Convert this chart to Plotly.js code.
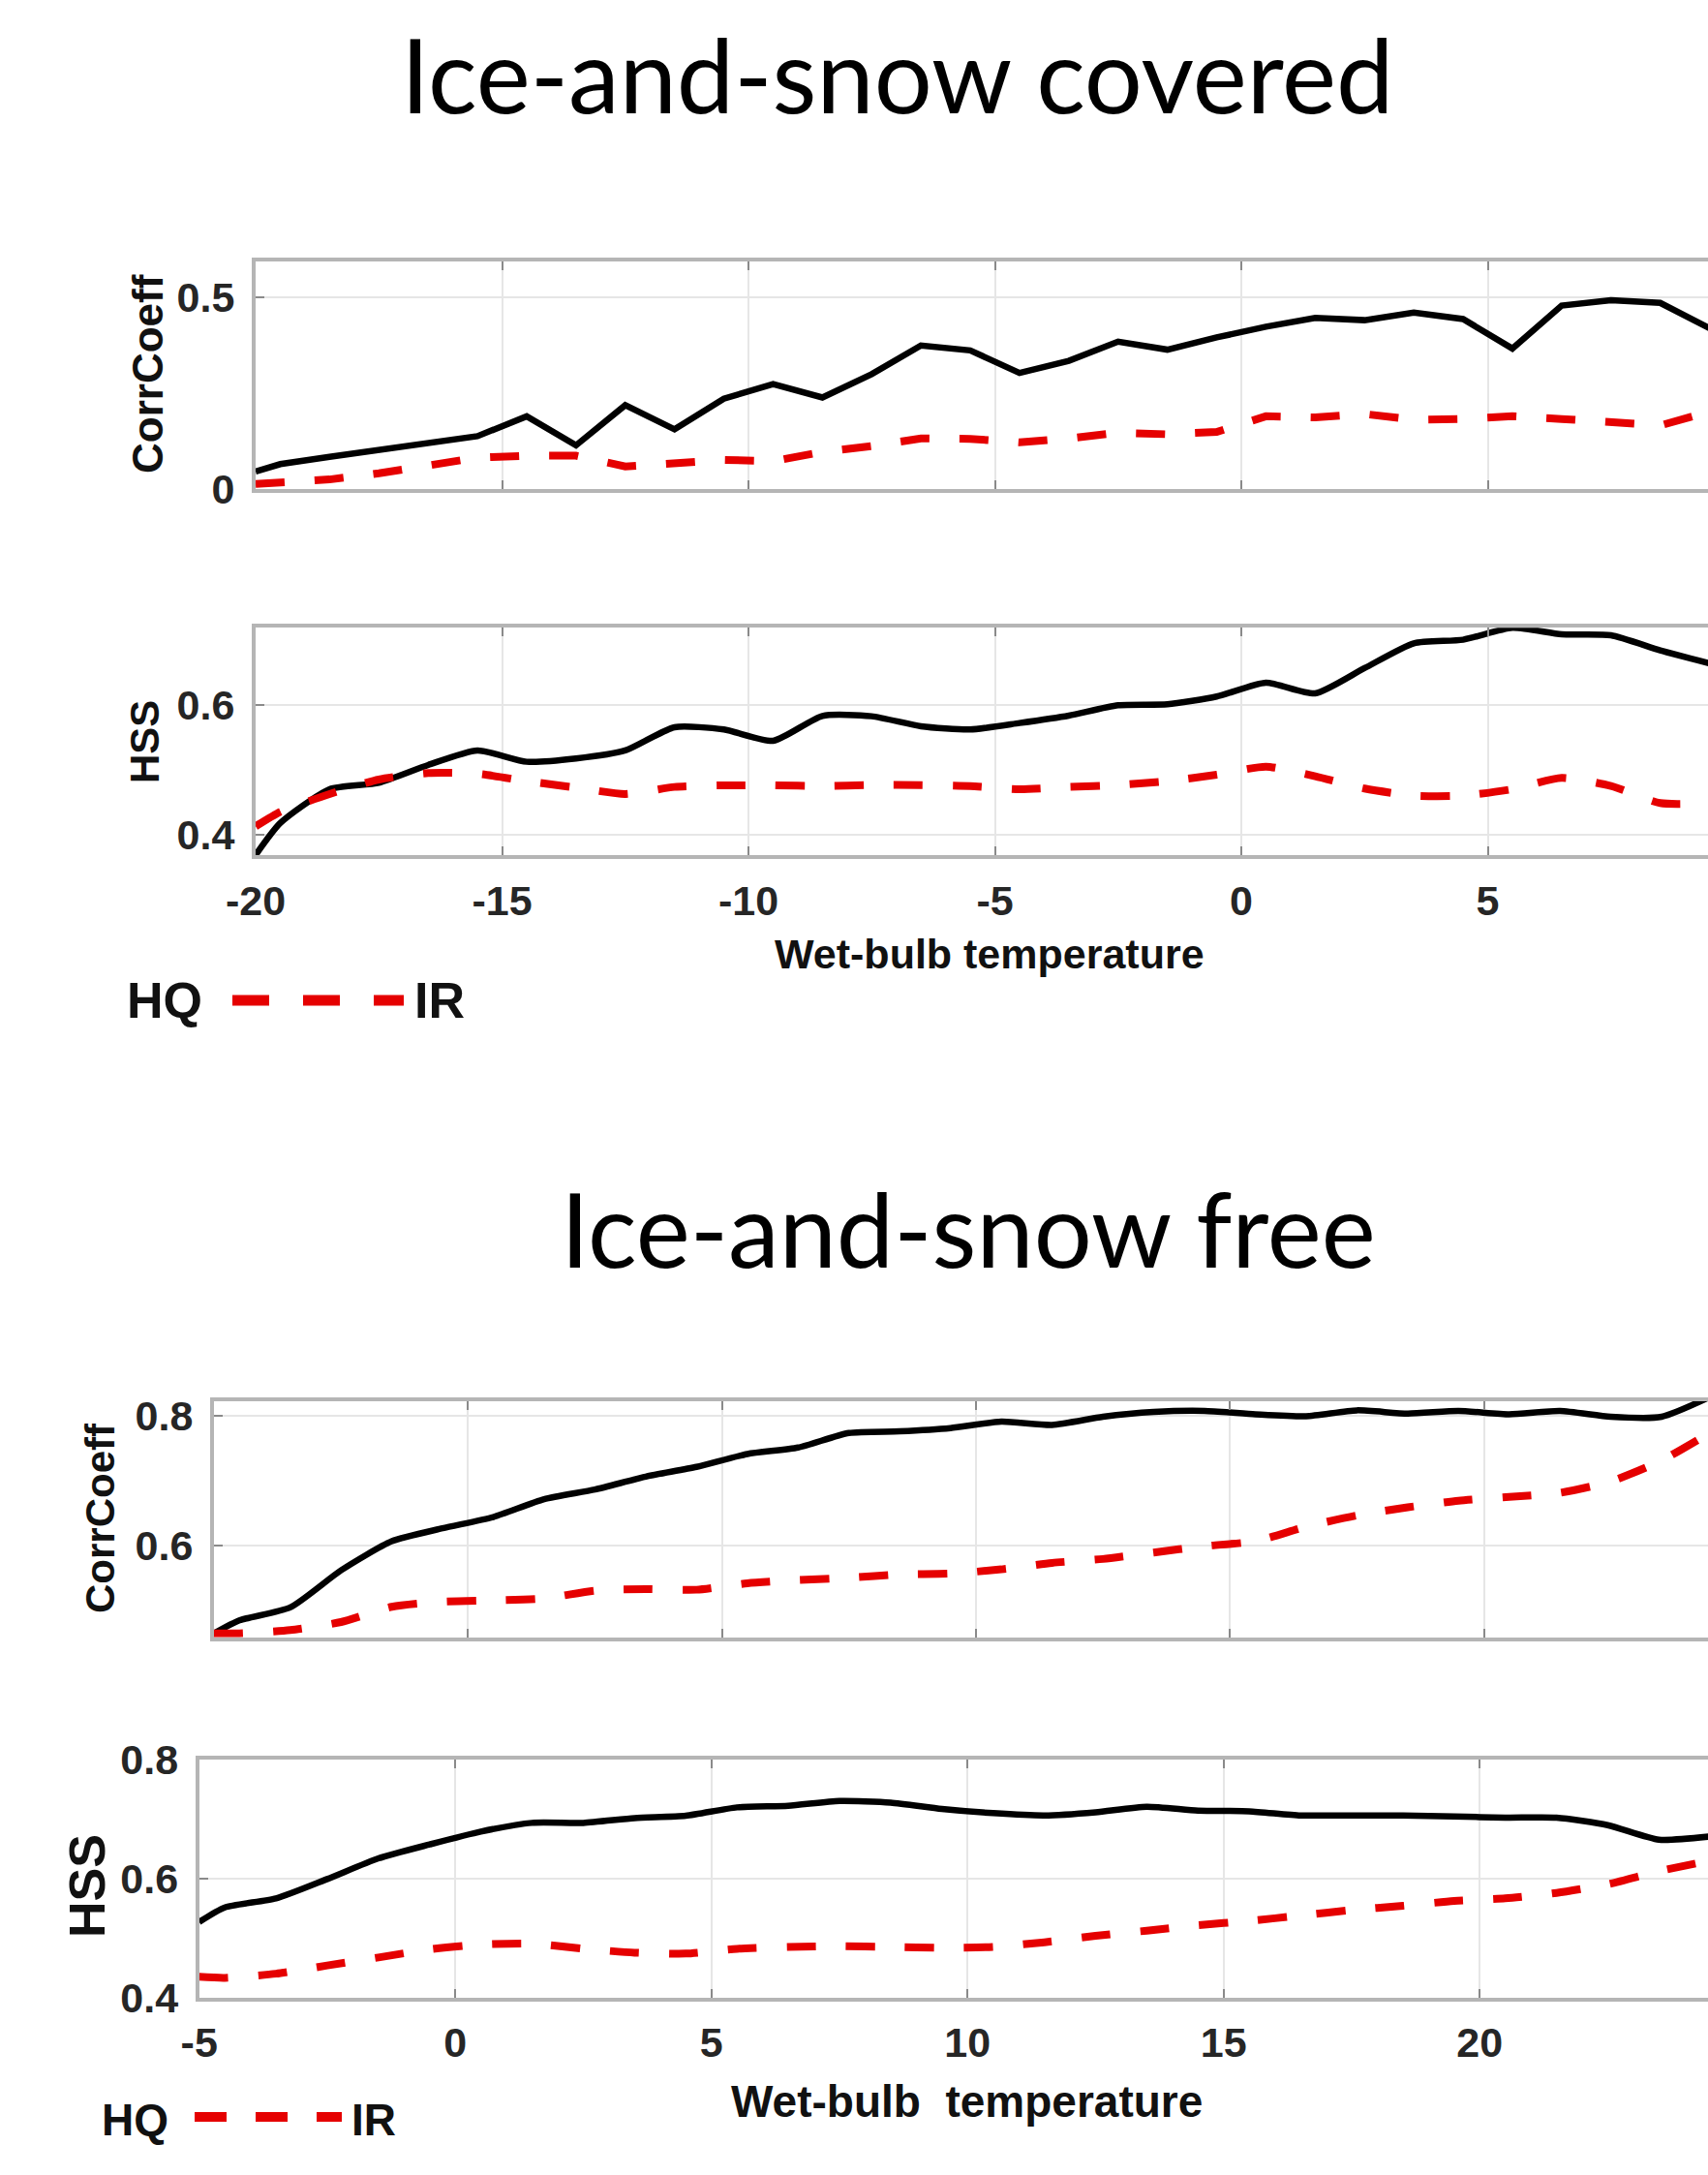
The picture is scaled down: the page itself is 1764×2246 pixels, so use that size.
<!DOCTYPE html>
<html><head><meta charset="utf-8">
<script src="https://cdn.plot.ly/plotly-3.0.1.min.js"></script>
<style>html,body{margin:0;padding:0;overflow:hidden;background:#fff;width:1764px;height:2246px}#chart{width:2000px;height:2246px}</style>
</head><body><div id="chart"></div><script>
// ---------- data ----------
const covX = [-20, -19.5, -18.5, -17.5, -16.5, -15.5, -14.5, -13.5, -12.5, -11.5, -10.5, -9.5, -8.5, -7.5, -6.5, -5.5, -4.5, -3.5, -2.5, -1.5, -0.5, 0.5, 1.5, 2.5, 3.5, 4.5, 5.5, 6.5, 7.5, 8.5, 9.5];
const covCorrHQ = [0.046, 0.065, 0.084, 0.103, 0.122, 0.138, 0.19, 0.114, 0.219, 0.156, 0.236, 0.274, 0.239, 0.30, 0.375, 0.362, 0.303, 0.335, 0.385, 0.364, 0.396, 0.424, 0.447, 0.441, 0.461, 0.444, 0.367, 0.479, 0.493, 0.486, 0.42];
const covCorrIR = [0.013, 0.016, 0.025, 0.041, 0.059, 0.082, 0.087, 0.087, 0.059, 0.070, 0.076, 0.073, 0.097, 0.112, 0.132, 0.131, 0.122, 0.132, 0.147, 0.143, 0.149, 0.190, 0.187, 0.196, 0.181, 0.183, 0.190, 0.183, 0.173, 0.166, 0.202];
const covHssHQ = [0.368, 0.4175, 0.47, 0.48, 0.5075, 0.53, 0.5125, 0.5175, 0.53, 0.566, 0.5625, 0.545, 0.5835, 0.583, 0.5675, 0.5625, 0.5725, 0.584, 0.60, 0.6015, 0.6135, 0.635, 0.6185, 0.6575, 0.696, 0.7015, 0.72, 0.71, 0.7085, 0.685, 0.665];
const covHssIR = [0.4125, 0.435, 0.4625, 0.485, 0.495, 0.494, 0.4825, 0.4725, 0.4625, 0.4735, 0.476, 0.476, 0.475, 0.4765, 0.4765, 0.475, 0.47, 0.4735, 0.4765, 0.4825, 0.4925, 0.505, 0.49, 0.471, 0.46, 0.46, 0.47, 0.4875, 0.475, 0.4485, 0.4485];

const freeX = [-5, -4.5, -3.5, -2.5, -1.5, -0.5, 0.5, 1.5, 2.5, 3.5, 4.5, 5.5, 6.5, 7.5, 8.5, 9.5, 10.5, 11.5, 12.5, 13.5, 14.5, 15.5, 16.5, 17.5, 18.5, 19.5, 20.5, 21.5, 22.5, 23.5, 24.5];
const freeCorrHQ = [0.4635, 0.4836, 0.5036, 0.561, 0.606, 0.626, 0.6435, 0.671, 0.686, 0.706, 0.721, 0.741, 0.751, 0.7735, 0.776, 0.781, 0.791, 0.786, 0.7986, 0.806, 0.8076, 0.8025, 0.7995, 0.8085, 0.8035, 0.8076, 0.8025, 0.8076, 0.7986, 0.7986, 0.831];
const freeCorrIR = [0.4635, 0.4635, 0.4686, 0.481, 0.5046, 0.5126, 0.5146, 0.5176, 0.5296, 0.532, 0.531, 0.541, 0.546, 0.5496, 0.5546, 0.556, 0.5625, 0.5725, 0.5786, 0.5886, 0.5985, 0.606, 0.6285, 0.646, 0.6585, 0.6686, 0.6746, 0.681, 0.6986, 0.731, 0.776];
const freeHssHQ = [0.5268, 0.5512, 0.5664, 0.5989, 0.6336, 0.657, 0.6786, 0.6932, 0.6932, 0.7013, 0.7052, 0.7192, 0.722, 0.730, 0.7273, 0.7165, 0.7095, 0.7057, 0.711, 0.7203, 0.7138, 0.7127, 0.7057, 0.7057, 0.7057, 0.704, 0.702, 0.702, 0.6894, 0.665, 0.6704];
const freeHssIR = [0.4347, 0.433, 0.440, 0.4537, 0.4672, 0.4808, 0.4889, 0.4905, 0.4818, 0.4753, 0.4737, 0.4818, 0.485, 0.4862, 0.485, 0.4835, 0.485, 0.4927, 0.5035, 0.5122, 0.5214, 0.5285, 0.5377, 0.5468, 0.554, 0.562, 0.5664, 0.5756, 0.5902, 0.612, 0.63];

const seriesNames = ['HQ', 'IR'];
const covTicksX = [-20, -15, -10, -5, 0, 5];
const freeTicksX = [-5, 0, 5, 10, 15, 20];
const titles = ['Ice-and-snow covered', 'Ice-and-snow free'];

// ---------- layout helpers ----------
const W = 2000, H = 2246;
const fx = p => p / W;
const fy = p => 1 - p / H;

const BLACK = '#000000', RED = '#e50000';
const hq = {color: BLACK, width: 6.5};
const irA = {color: RED, width: 8, dash: '30px,31px'};

function tr(x, y, ax, line, shape) {
  return {x: x, y: y, xaxis: 'x' + ax, yaxis: 'y' + ax, type: 'scatter', mode: 'lines',
          line: Object.assign({shape: shape || 'linear', smoothing: 0.6}, line), hoverinfo: 'skip', showlegend: false};
}
const traces = [
  tr(covX, covCorrHQ, '', hq), tr(covX, covCorrIR, '', irA),
  tr(covX, covHssHQ, '2', hq, 'spline'), tr(covX, covHssIR, '2', irA, 'spline'),
  tr(freeX, freeCorrHQ, '3', hq, 'spline'), tr(freeX, freeCorrIR, '3', irA, 'spline'),
  tr(freeX, freeHssHQ, '4', hq, 'spline'), tr(freeX, freeHssIR, '4', irA, 'spline')
];

const tickFont = {family: 'Liberation Sans, Arial, sans-serif', size: 43, color: '#262626', weight: 'bold'};
function xa(left, x0, pxPer, tv, anchor, labels) {
  return {domain: [fx(left), fx(1950)], range: [x0, x0 + (1950 - left) / pxPer], anchor: anchor,
          tickvals: tv, ticktext: tv.map(String), showticklabels: labels,
          showgrid: true, gridcolor: '#e6e6e6', gridwidth: 2, zeroline: false,
          showline: true, mirror: 'ticks', linecolor: '#b5b5b5', linewidth: 4,
          ticks: 'inside', ticklen: 9, tickwidth: 2, tickcolor: '#8a8a8a',
          tickfont: tickFont, ticklabelstandoff: 6, fixedrange: true};
}
function ya(top, bottom, r, tv, anchor) {
  return {domain: [fy(bottom), fy(top)], range: r, anchor: anchor,
          tickvals: tv, ticktext: tv.map(String),
          showgrid: true, gridcolor: '#e6e6e6', gridwidth: 2, zeroline: false,
          showline: true, mirror: 'ticks', linecolor: '#b5b5b5', linewidth: 4,
          ticks: 'inside', ticklen: 9, tickwidth: 2, tickcolor: '#8a8a8a',
          tickfont: tickFont, ticklabelstandoff: 9, fixedrange: true};
}

function ann(text, px, py, size, opts) {
  return Object.assign({text: text, x: fx(px), y: fy(py), xref: 'paper', yref: 'paper', showarrow: false,
    xanchor: 'center', yanchor: 'middle',
    font: {family: 'Liberation Sans, Arial, sans-serif', size: size, color: '#111111', weight: 'bold'}}, opts || {});
}
const titleFont = s => ({family: 'Lato, Open Sans, sans-serif', size: s, color: '#000000'});

const annotations = [
  ann(titles[0], 926, 76, 106, {font: titleFont(106)}),
  ann(titles[1], 1000, 1268, 106, {font: titleFont(106)}),
  ann('CorrCoeff', 153, 386, 44, {textangle: -90}),
  ann('HSS', 149, 766, 42, {textangle: -90}),
  ann('CorrCoeff', 103, 1568, 42, {textangle: -90}),
  ann('HSS', 90, 1948, 52, {textangle: -90}),
  ann('Wet-bulb temperature', 1022, 985, 43),
  ann('Wet-bulb\u00a0 temperature', 998, 2170, 46),
  ann(seriesNames[0], 129, 1033, 52, {xanchor: 'left'}),
  ann(seriesNames[1], 426, 1033, 52, {xanchor: 'left'}),
  ann(seriesNames[0], 103, 2189, 46, {xanchor: 'left'}),
  ann(seriesNames[1], 361, 2189, 46, {xanchor: 'left'})
];

const shapes = [
  {type: 'line', xref: 'paper', yref: 'paper', x0: fx(240), x1: fx(417), y0: fy(1033), y1: fy(1033),
   line: {color: RED, width: 11, dash: '38px,35px'}},
  {type: 'line', xref: 'paper', yref: 'paper', x0: fx(201), x1: fx(353), y0: fy(2186), y1: fy(2186),
   line: {color: RED, width: 10, dash: '33px,30px'}}
];

const layout = {
  width: W, height: H, margin: {l: 0, r: 0, t: 0, b: 0},
  paper_bgcolor: '#ffffff', plot_bgcolor: '#ffffff', showlegend: false,
  xaxis: xa(264, -20, 50.9, covTicksX, 'y', false),
  yaxis: ya(270, 505, [0, 0.5943], [0, 0.5], 'x'),
  xaxis2: xa(264, -20, 50.9, covTicksX, 'y2', true),
  yaxis2: ya(648.3, 883.3, [0.3675, 0.72], [0.4, 0.6], 'x2'),
  xaxis3: xa(221, -5, 52.46, freeTicksX, 'y3', false),
  yaxis3: ya(1446.7, 1690.7, [0.4575, 0.823], [0.6, 0.8], 'x3'),
  xaxis4: xa(205.7, -5, 52.9, freeTicksX, 'y4', true),
  yaxis4: ya(1816.7, 2062.7, [0.4, 0.8], [0.4, 0.6, 0.8], 'x4'),
  annotations: annotations, shapes: shapes
};

Plotly.newPlot('chart', traces, layout, {displayModeBar: false, staticPlot: true});
</script></body></html>
